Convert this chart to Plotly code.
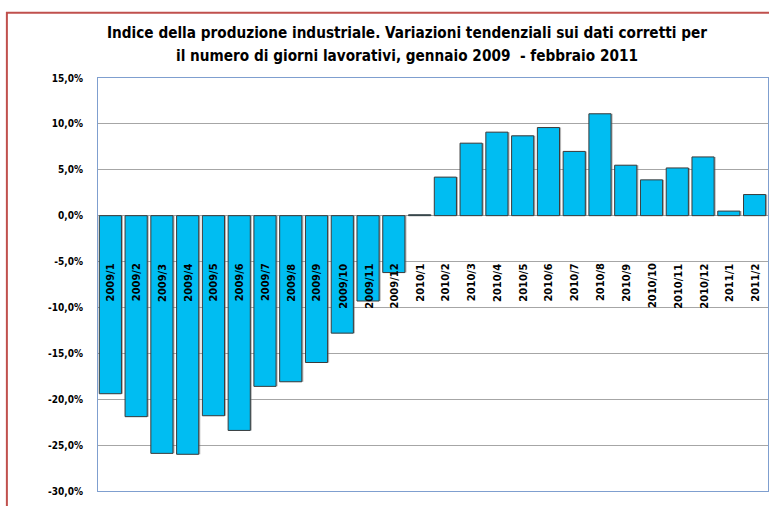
import plotly.graph_objects as go

categories = ["2009/1", "2009/2", "2009/3", "2009/4", "2009/5", "2009/6", "2009/7", "2009/8",
              "2009/9", "2009/10", "2009/11", "2009/12", "2010/1", "2010/2", "2010/3", "2010/4",
              "2010/5", "2010/6", "2010/7", "2010/8", "2010/9", "2010/10", "2010/11", "2010/12",
              "2011/1", "2011/2"]
values = [-19.4, -21.9, -25.9, -26.0, -21.8, -23.4, -18.6, -18.1, -16.0, -12.8, -9.3, -6.2,
          0.1, 4.2, 7.9, 9.1, 8.7, 9.6, 7.0, 11.1, 5.5, 3.9, 5.2, 6.4, 0.5, 2.3]
tick_values = [15, 10, 5, 0, -5, -10, -15, -20, -25, -30]
tick_labels = ["15,0%", "10,0%", "5,0%", "0,0%", "-5,0%", "-10,0%", "-15,0%", "-20,0%", "-25,0%", "-30,0%"]
title_lines = ["Indice della produzione industriale. Variazioni tendenziali sui dati corretti per",
               "il numero di giorni lavorativi, gennaio 2009  - febbraio 2011"]

FONT = "Liberation Sans Narrow, Arial Narrow, DejaVu Sans Condensed, sans-serif"

fig = go.Figure()
# soft drop shadow under each bar
fig.add_trace(go.Bar(
    x=categories, y=values,
    marker=dict(color="rgba(110,110,110,0.5)", line=dict(width=0)),
    width=0.86, offset=-0.39,
    hoverinfo="skip",
))
fig.add_trace(go.Bar(
    x=categories, y=values,
    marker=dict(color="#00BDF2", line=dict(color="#3A3A3A", width=1)),
    width=0.86, offset=-0.45,
    hoverinfo="x+y",
))

for c in categories:
    fig.add_annotation(x=c, y=-5.0, xref="x", yref="y", text="<b>%s</b>" % c,
                       textangle=-90, showarrow=False, yanchor="top", xanchor="center",
                       font=dict(family=FONT, size=11, color="black"))

for line, ypos in zip(title_lines, [1.109, 1.053]):
    fig.add_annotation(x=0.461, y=ypos, xref="paper", yref="paper", text="<b>%s</b>" % line,
                       showarrow=False, xanchor="center", yanchor="middle",
                       font=dict(family=FONT, size=15.2, color="black"))

fig.add_shape(type="rect", xref="paper", yref="paper", x0=-0.136, y0=-0.2, x1=1.2, y1=1.158,
              line=dict(color="#C0504D", width=2), layer="below")

fig.update_layout(
    width=769, height=506,
    margin=dict(l=98, r=1, t=78, b=15),
    paper_bgcolor="white", plot_bgcolor="white",
    showlegend=False, barmode="overlay",
    font=dict(family=FONT),
    xaxis=dict(showticklabels=False, ticks="", showgrid=False, zeroline=False,
               showline=True, linecolor="#7F9FCF", linewidth=1, mirror=True),
    yaxis=dict(range=[-30, 15], tickvals=tick_values, ticktext=["<b>%s</b>" % t for t in tick_labels],
               tickfont=dict(family=FONT, size=10, color="black"), ticks="", ticklen=0,
               showgrid=True, gridcolor="#A6A6A6", gridwidth=1, zeroline=False,
               showline=True, linecolor="#7F9FCF", linewidth=1, mirror=True),
)
fig.update_yaxes(ticklabelstandoff=12)

fig.write_html("out.html", config={"displayModeBar": False},
               post_script="document.body.style.margin='0';")
